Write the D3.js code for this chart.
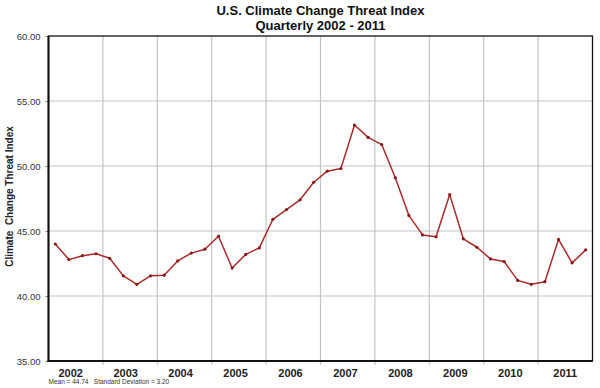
<!DOCTYPE html>
<html><head><meta charset="utf-8">
<script src="https://cdn.jsdelivr.net/npm/d3@7"></script>
<style>body{margin:0;background:#fff}svg{display:block}</style>
</head><body><svg id="c" width="600" height="388"></svg>
<script>
const years = ["2002","2003","2004","2005","2006","2007","2008","2009","2010","2011"];
const quarters = ["Q1","Q2","Q3","Q4"];
const values = [
  44.0, 42.8, 43.1, 43.25,
  42.9, 41.55, 40.9, 41.55,
  41.6, 42.7, 43.3, 43.6,
  44.6, 42.15, 43.2, 43.7,
  45.9, 46.65, 47.4, 48.75,
  49.6, 49.8, 53.15, 52.2,
  51.65, 49.1, 46.2, 44.7,
  44.55, 47.8, 44.4, 43.75,
  42.85, 42.65, 41.2, 40.9,
  41.1, 44.35, 42.55, 43.55
];
const yTicks = [35, 40, 45, 50, 55, 60];
const titleLines = ["U.S. Climate Change Threat Index", "Quarterly 2002 - 2011"];
const yTitle = "Climate  Change Threat Index";
const footnote = "Mean = 44.74   Standard Deviation = 3.20";

const svg = d3.select("#c");
const L = 48.5, R = 592.5, T = 36, B = 361;
const font = "Liberation Sans, Arial, sans-serif";

const keys = [];
years.forEach(y => quarters.forEach(q => keys.push(y + q)));
const data = values.map((v, i) => ({k: keys[i], v}));

const xYear = d3.scaleBand().domain(years).range([L, R]);
const xQ = d3.scalePoint().domain(keys).range([L, R]).padding(0.5);
const y = d3.scaleLinear().domain([35, 60]).range([B, T]);

// gridlines
const g = svg.append("g");
g.selectAll(".vg").data(years.slice(1)).join("line")
  .attr("x1", d => xYear(d)).attr("x2", d => xYear(d))
  .attr("y1", T).attr("y2", B + 4)
  .attr("stroke", "#c4c4c4").attr("stroke-width", 1.2);
g.selectAll(".hg").data(yTicks.filter(t => t > 35 && t < 60)).join("line")
  .attr("x1", L).attr("x2", R)
  .attr("y1", d => y(d)).attr("y2", d => y(d))
  .attr("stroke", "#c4c4c4").attr("stroke-width", 1.2);

// y axis labels via d3 axis
const yAxis = svg.append("g").attr("transform", `translate(${L},0)`)
  .call(d3.axisLeft(y).tickValues(yTicks).tickFormat(d3.format(".2f")).tickSize(3).tickPadding(5));
yAxis.select(".domain").remove();
yAxis.selectAll("line").attr("stroke", "#888");
yAxis.selectAll("text").attr("font-family", font).attr("font-size", 9.5).attr("fill", "#333");

// x axis
const xAxis = svg.append("g").attr("transform", `translate(0,${B})`)
  .call(d3.axisBottom(xYear).tickSize(0).tickPadding(8));
xAxis.select(".domain").remove();
xAxis.selectAll("text").attr("font-family", font).attr("font-size", 11)
  .attr("font-weight", "bold").attr("fill", "#222")
  .attr("dx", (d, i) => -5 + i * 0.55);

// frame
svg.append("rect").attr("x", L).attr("y", T).attr("width", R - L).attr("height", B - T)
  .attr("fill", "none").attr("stroke", "#111").attr("stroke-width", 1.3);
svg.append("line").attr("x1", L).attr("x2", L).attr("y1", T).attr("y2", B + 1)
  .attr("stroke", "#111").attr("stroke-width", 2);
svg.append("line").attr("x1", L - 1).attr("x2", R).attr("y1", B).attr("y2", B)
  .attr("stroke", "#111").attr("stroke-width", 2);

// line
const line = d3.line().x(d => xQ(d.k)).y(d => y(d.v));
svg.append("path").datum(data).attr("d", line)
  .attr("fill", "none").attr("stroke", "#a82a2a").attr("stroke-width", 1.5)
  .attr("stroke-linejoin", "round");
svg.selectAll(".pt").data(data).join("circle")
  .attr("cx", d => xQ(d.k)).attr("cy", d => y(d.v)).attr("r", 1.6)
  .attr("fill", "#8a1a1a");

// titles
svg.selectAll(".title").data(titleLines).join("text")
  .attr("x", (L + R) / 2).attr("y", (d, i) => 15 + i * 14.5)
  .attr("text-anchor", "middle").attr("font-family", font)
  .attr("font-size", 13).attr("font-weight", "bold").attr("fill", "#111")
  .text(d => d);

svg.append("text")
  .attr("transform", `translate(13,${(T + B) / 2 - 2}) rotate(-90)`)
  .attr("text-anchor", "middle").attr("font-family", font)
  .attr("font-size", 10).attr("font-weight", "bold").attr("fill", "#222")
  .style("white-space", "pre")
  .text(yTitle);

svg.append("text").attr("x", L).attr("y", 384)
  .attr("font-family", font).attr("font-size", 6.5).attr("fill", "#333")
  .style("white-space", "pre")
  .text(footnote);
</script></body></html>
